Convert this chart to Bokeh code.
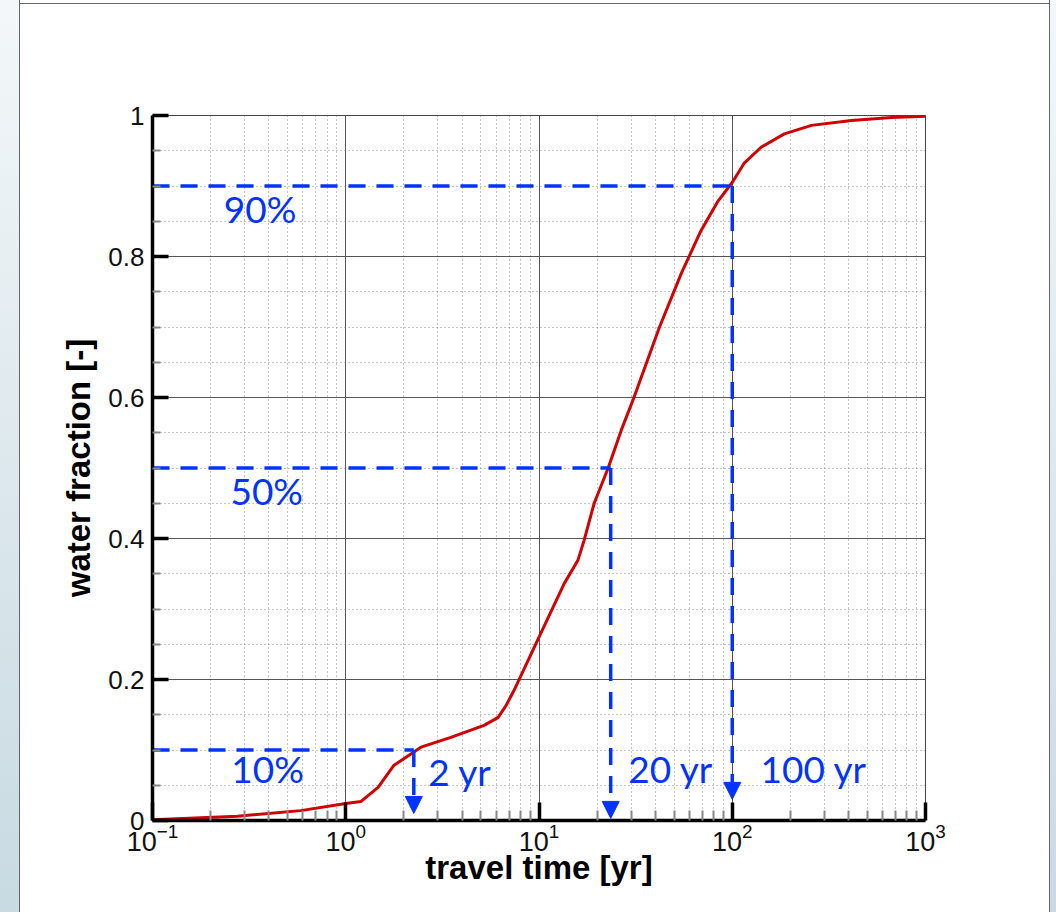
from bokeh.plotting import figure
from bokeh.models import (Range1d, FixedTicker, Label, Arrow, NormalHead,
                          ColumnDataSource, LogTickFormatter)
from bokeh.embed import file_html
from bokeh.resources import INLINE

# ---- data ----
travel_time = [0.1, 0.275, 0.585, 1.0, 1.2, 1.47, 1.77, 2.45, 3.5, 5.19, 6.13,
               6.75, 7.41, 10.2, 13.5, 15.9, 17.1, 19.3, 22.8, 26.6, 31.0, 41.9,
               54.5, 69.0, 84.6, 100.0, 115.0, 141.0, 186.0, 257.0, 414.0, 667.0, 1000.0]
water_fraction = [0.001, 0.006, 0.014, 0.024, 0.027, 0.047, 0.078, 0.104, 0.118, 0.135, 0.146,
                  0.163, 0.184, 0.265, 0.336, 0.369, 0.397, 0.45, 0.50, 0.553, 0.60, 0.699,
                  0.776, 0.837, 0.879, 0.905, 0.932, 0.955, 0.974, 0.986, 0.993, 0.997, 0.999]

marker_fraction = [0.1, 0.5, 0.9]
marker_time = [2.25, 23.5, 100.0]
arrow_tip = [0.010, 0.003, 0.030]
marker_pct_labels = ["10%", "50%", "90%"]
marker_time_labels = ["2 yr", "20 yr", "100 yr"]

y_ticks = [0, 0.2, 0.4, 0.6, 0.8, 1.0]
y_tick_labels = ["0", "0.2", "0.4", "0.6", "0.8", "1"]
y_minor = [0.05, 0.1, 0.15, 0.25, 0.3, 0.35, 0.45, 0.5, 0.55, 0.65, 0.7, 0.75,
           0.85, 0.9, 0.95]
x_ticks = [0.1, 1, 10, 100, 1000]
x_minor = [m * d for d in [0.1, 1, 10, 100] for m in range(2, 10)]

BLUE = "#0033FF"
RED = "#D00000"

p = figure(width=1056, height=912, x_axis_type="log",
           x_range=Range1d(0.1, 1000), y_range=Range1d(0, 1),
           output_backend="svg", toolbar_location=None,
           min_border_left=152, min_border_right=131,
           min_border_top=115, min_border_bottom=92)
p.background_fill_color = "white"
p.border_fill_color = None
p.outline_line_color = "#444444"
p.outline_line_width = 1
# slide-like frame behind the chart: light blue strips and a grey-bordered white box
p.styles = {
    "background": ("linear-gradient(#666666, #666666) 19px 3px / 1031px 1px no-repeat, "
                   "linear-gradient(to right, transparent 0px, transparent 19px, #666666 19px, "
                   "#666666 20px, #ffffff 20px, #ffffff 1049px, #666666 1049px, #666666 1050px, "
                   "transparent 1050px), "
                   "linear-gradient(to bottom, #f3f7f9, #c8dae2)")
}

# axes
p.xaxis.ticker = FixedTicker(ticks=x_ticks, minor_ticks=x_minor)
p.xaxis.formatter = LogTickFormatter()
p.yaxis.ticker = FixedTicker(ticks=y_ticks, minor_ticks=y_minor)
p.yaxis.major_label_overrides = {t: l for t, l in zip(y_ticks, y_tick_labels)}

for ax in (p.xaxis, p.yaxis):
    ax.axis_line_color = "black"
    ax.axis_line_width = 3.5
    ax.major_tick_line_color = "black"
    ax.major_tick_line_width = 3.5
    ax.major_tick_out = 0
    ax.minor_tick_line_color = "#888888"
    ax.minor_tick_line_width = 2
    ax.minor_tick_out = 0
    ax.major_label_text_font = "Liberation Sans"
    ax.major_label_text_color = "#111111"
    ax.axis_label_text_font = "Liberation Sans"
    ax.axis_label_text_font_style = "bold"
    ax.axis_label_text_font_size = "33px"
    ax.axis_label_text_color = "black"

p.xaxis.major_label_text_font_size = "27px"
p.yaxis.major_label_text_font_size = "26px"
p.xaxis.major_tick_in = 18
p.xaxis.minor_tick_in = 10
p.yaxis.major_tick_in = 16
p.yaxis.minor_tick_in = 8
p.xaxis.major_label_standoff = 2
p.yaxis.major_label_standoff = 8
p.xaxis.axis_label = "travel time [yr]"
p.yaxis.axis_label = "water fraction [-]"
p.xaxis.axis_label_standoff = -5
p.yaxis.axis_label_standoff = 8

# grids
for g in (p.xgrid, p.ygrid):
    g.grid_line_color = "#555555"
    g.grid_line_width = 1
    g.minor_grid_line_color = "#888888"
    g.minor_grid_line_width = 1
    g.minor_grid_line_dash = "1 3"

# curve
p.line(travel_time, water_fraction, line_color=RED, line_width=3)

# dashed guides
p.segment(x0=[0.1] * len(marker_time), y0=marker_fraction,
          x1=marker_time, y1=marker_fraction,
          line_color=BLUE, line_width=3.5, line_dash="17 11")
arrow_src = ColumnDataSource(dict(xs=marker_time, ys=marker_fraction, ye=arrow_tip))
p.add_layout(Arrow(end=NormalHead(size=17, fill_color=BLUE, line_color=BLUE, line_width=1),
                   x_start="xs", y_start="ys", x_end="xs", y_end="ye", source=arrow_src,
                   line_color=BLUE, line_width=3.5, line_dash="17 11"))

# texts
pct_pos = [(0.394, 0.0525), (0.390, 0.4468), (0.360, 0.8468)]
for (x, y), t in zip(pct_pos, marker_pct_labels):
    p.add_layout(Label(x=x, y=y, y_offset=15, text=t, text_align="center",
                       text_baseline="alphabetic", text_font="Lato",
                       text_font_size="37px", text_color=BLUE))
time_pos = [(3.90, 0.048), (48.0, 0.0525), (264.0, 0.0525)]
for (x, y), t in zip(time_pos, marker_time_labels):
    p.add_layout(Label(x=x, y=y, y_offset=15, text=t, text_align="center",
                       text_baseline="alphabetic", text_font="Lato",
                       text_font_size="37px", text_color=BLUE))

open("out.html", "w").write(file_html(p, INLINE))
